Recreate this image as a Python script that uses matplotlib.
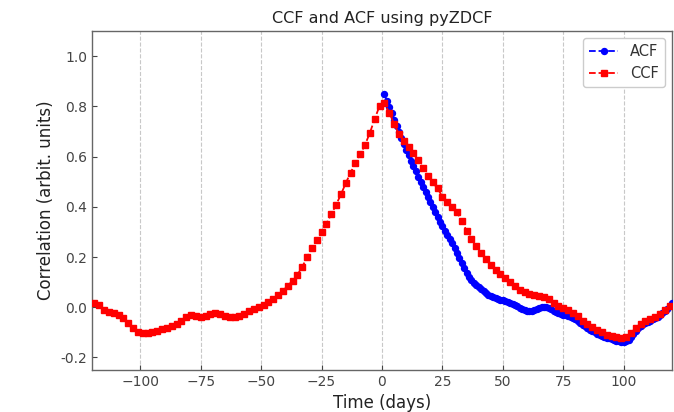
import numpy as np
import matplotlib
matplotlib.use("Agg")
import matplotlib.pyplot as plt

title = "CCF and ACF using pyZDCF"
xlabel = "Time (days)"
ylabel = "Correlation (arbit. units)"
xticks = [-100, -75, -50, -25, 0, 25, 50, 75, 100]
yticks = [-0.2, 0.0, 0.2, 0.4, 0.6, 0.8, 1.0]

# CCF: lags every 2 days (odd days -119 .. 119)
ccf_lag = np.arange(-119, 120, 2)
ccf_val = [
    0.016, 0.008, -0.010, -0.019, -0.024, -0.030, -0.044, -0.062, -0.082, -0.098,
    -0.104, -0.102, -0.098, -0.094, -0.088, -0.082, -0.075, -0.065, -0.053, -0.038,
    -0.032, -0.034, -0.037, -0.034, -0.028, -0.024, -0.028, -0.033, -0.037, -0.037,
    -0.034, -0.026, -0.016, -0.007, 0.002, 0.010, 0.020, 0.033, 0.048, 0.066,
    0.085, 0.106, 0.130, 0.160, 0.200, 0.234, 0.268, 0.300, 0.333, 0.370,
    0.408, 0.449, 0.494, 0.536, 0.574, 0.610, 0.647, 0.695, 0.750, 0.802,
    0.812, 0.775, 0.730, 0.690, 0.663, 0.637, 0.614, 0.585, 0.554, 0.524,
    0.497, 0.473, 0.440, 0.421, 0.401, 0.379, 0.342, 0.305, 0.272, 0.243,
    0.217, 0.193, 0.170, 0.150, 0.131, 0.115, 0.099, 0.084, 0.070, 0.059,
    0.052, 0.048, 0.045, 0.040, 0.031, 0.015, 0.003, -0.004, -0.012, -0.022,
    -0.036, -0.053, -0.066, -0.079, -0.091, -0.100, -0.109, -0.116, -0.120, -0.123,
    -0.117, -0.103, -0.082, -0.066, -0.056, -0.047, -0.038, -0.027, -0.013, 0.004,
]

# ACF: lags every day (1 .. 120)
acf_lag = np.arange(1, 121, 1)
acf_val = [
    0.848, 0.822, 0.798, 0.772, 0.747, 0.722, 0.698, 0.674, 0.651, 0.628,
    0.606, 0.584, 0.562, 0.541, 0.520, 0.499, 0.478, 0.458, 0.438, 0.418,
    0.398, 0.379, 0.360, 0.341, 0.323, 0.305, 0.288, 0.271, 0.254, 0.235,
    0.215, 0.195, 0.175, 0.155, 0.136, 0.121, 0.108, 0.097, 0.088, 0.080,
    0.073, 0.066, 0.058, 0.050, 0.044, 0.040, 0.036, 0.033, 0.030, 0.027,
    0.023, 0.019, 0.015, 0.011, 0.007, 0.003, -0.002, -0.006, -0.010, -0.014,
    -0.016, -0.016, -0.013, -0.008, -0.003, 0.001, 0.002, 0.000, -0.004, -0.009,
    -0.014, -0.019, -0.023, -0.027, -0.029, -0.031, -0.033, -0.037, -0.042, -0.048,
    -0.055, -0.062, -0.069, -0.076, -0.083, -0.089, -0.095, -0.100, -0.105, -0.109,
    -0.113, -0.117, -0.121, -0.124, -0.127, -0.130, -0.133, -0.136, -0.138, -0.139,
    -0.136, -0.130, -0.120, -0.107, -0.094, -0.083, -0.074, -0.067, -0.062, -0.058,
    -0.053, -0.048, -0.043, -0.037, -0.031, -0.024, -0.016, -0.007, 0.004, 0.016,
]

fig = plt.figure(figsize=(6.74, 4.12), dpi=100)
ax = fig.add_axes([92/674, 1 - 370/412, (672-92)/674, (370-31)/412])

ax.plot(acf_lag, acf_val, linestyle="--", color="blue", marker="o", markersize=4.3,
        linewidth=1.3, label="ACF", zorder=3)
ax.plot(ccf_lag, ccf_val, linestyle="--", color="red", marker="s", markersize=4.3,
        linewidth=1.3, label="CCF", zorder=3)

ax.set_xlim(-120, 120)
ax.set_ylim(-0.25, 1.1)
ax.set_xticks(xticks)
ax.set_yticks(yticks)
ax.set_yticklabels([f"{v:.1f}" for v in yticks])
ax.grid(axis="x", linestyle="--", color="#c8c8c8", linewidth=0.8)
ax.tick_params(direction="in", labelsize=10, colors="#444444", labelcolor="#444444")
for s in ax.spines.values():
    s.set_color("#666666")
    s.set_linewidth(1.0)

ax.set_title(title, fontsize=11.5, color="#222222")
ax.set_xlabel(xlabel, fontsize=12, color="#222222")
ax.set_ylabel(ylabel, fontsize=12, color="#222222")
leg = ax.legend(loc="upper right", fontsize=10.5, framealpha=1)
for t in leg.get_texts():
    t.set_color("#333333")

fig.savefig("out.png", dpi=100)
